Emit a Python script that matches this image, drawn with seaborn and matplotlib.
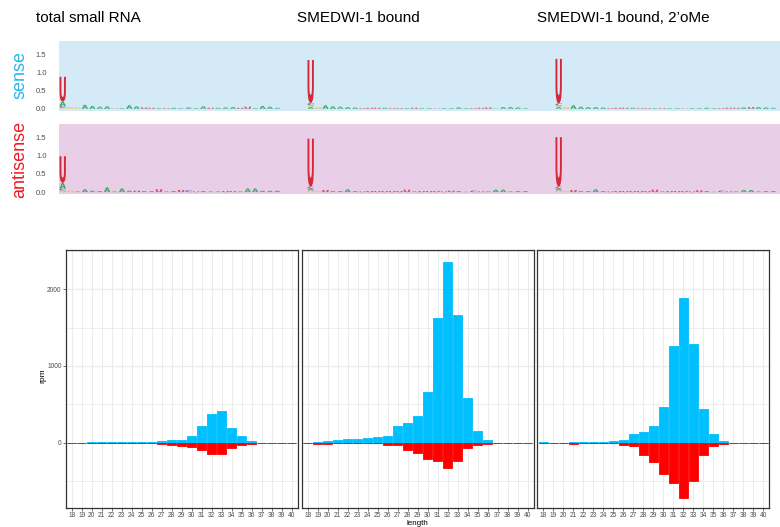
import numpy as np
import pandas as pd
import matplotlib
matplotlib.use("Agg")
import matplotlib.pyplot as plt
import seaborn as sns
from matplotlib.textpath import TextPath
from matplotlib.patches import PathPatch
from matplotlib.font_manager import FontProperties
from matplotlib.ticker import NullLocator, FixedLocator
import matplotlib.transforms as mtransforms

# ---------------- data ----------------
panel_titles = ["total small RNA", "SMEDWI-1 bound", "SMEDWI-1 bound, 2\u2019oMe"]
strand_labels = ["sense", "antisense"]

lengths = [str(v) for v in range(18, 41)]

total_sense = [0, 0, 12, 12, 12, 12, 12, 12, 12, 22, 40, 35, 90, 220, 378, 413, 191, 90, 26, 0, 0, 0, 0]
total_anti = [0, -5, -10, -10, -10, -10, -10, -10, -10, -15, -26, -45, -55, -95, -143, -143, -65, -26, -13, -5, -5, -5, -5]

smedwi_sense = [0, 9, 17, 30, 43, 43, 57, 70, 83, 213, 252, 343, 657, 1622, 2352, 1665, 578, 148, 30, 0, 0, 0, 0]
smedwi_anti = [-5, -13, -13, -10, -10, -10, -10, -8, -30, -30, -100, -135, -217, -239, -335, -235, -70, -30, -15, -5, -5, -5, -5]

ome_sense = [5, 0, 0, 9, 9, 9, 9, 17, 30, 113, 135, 213, 461, 1257, 1883, 1283, 435, 109, 17, 0, 0, 0, 0]
ome_anti = [0, -5, -5, -13, -10, -10, -10, -10, -30, -45, -160, -252, -409, -526, -722, -496, -160, -45, -15, -5, -5, -5, -5]

# sequence logos: first position stack (bottom->top) and positions 2..30 (top letter, bits)
s1_first = (["G", "C", "A", "U"], [0.03, 0.05, 0.12, 0.68])
s1_seq = "GGAAAAUAAAUUAUACAAAUAAAUUAAAA"
s1_h = [0.05, 0.04, 0.11, 0.08, 0.06, 0.07, 0.01, 0.02, 0.10, 0.07, 0.04, 0.03, 0.02, 0.02, 0.03,
        0.02, 0.04, 0.02, 0.07, 0.03, 0.03, 0.04, 0.05, 0.03, 0.06, 0.02, 0.08, 0.06, 0.03]

s2_first = (["A", "G", "C", "U"], [0.05, 0.05, 0.06, 1.18])
s2_seq = "GAAAAAUUUAUUAUAAUAAAAUUUAAAAA"
s2_h = [0.05, 0.10, 0.07, 0.06, 0.05, 0.04, 0.02, 0.03, 0.03, 0.03, 0.02, 0.02, 0.02, 0.03, 0.02,
        0.02, 0.01, 0.02, 0.02, 0.04, 0.02, 0.02, 0.03, 0.04, 0.01, 0.05, 0.05, 0.04, 0.02]

s3_first = (["A", "G", "C", "U"], [0.05, 0.04, 0.06, 1.22])
s3_seq = "GAAAAAUUUAUUAUAAUAAAAUUUAUAAA"
s3_h = [0.05, 0.10, 0.06, 0.05, 0.05, 0.04, 0.02, 0.03, 0.03, 0.03, 0.02, 0.02, 0.02, 0.02, 0.02,
        0.02, 0.01, 0.02, 0.02, 0.03, 0.02, 0.02, 0.03, 0.03, 0.04, 0.05, 0.05, 0.04, 0.03]

a1_first = (["G", "C", "A", "U"], [0.05, 0.05, 0.16, 0.72])
a1_seq = "GAAAAAAAAUAAUAAUCUAAAUUAAAAAA"
a1_h = [0.04, 0.02, 0.08, 0.04, 0.03, 0.13, 0.02, 0.10, 0.04, 0.04, 0.03, 0.03, 0.08, 0.02, 0.03,
        0.06, 0.05, 0.02, 0.03, 0.02, 0.02, 0.03, 0.03, 0.02, 0.10, 0.10, 0.04, 0.04, 0.04]

a2_first = (["G", "A", "C", "U"], [0.05, 0.05, 0.05, 1.31])
a2_seq = "GUAAAAUUUUUUUAUUUUUAACUAAAAAA"
a2_h = [0.03, 0.06, 0.03, 0.03, 0.08, 0.03, 0.02, 0.03, 0.03, 0.03, 0.03, 0.03, 0.07, 0.02, 0.03,
        0.03, 0.03, 0.02, 0.04, 0.03, 0.01, 0.04, 0.02, 0.02, 0.07, 0.07, 0.02, 0.03, 0.03]

a3_first = (["G", "A", "C", "U"], [0.05, 0.05, 0.05, 1.35])
a3_seq = "GUAAAAUUUUUUUAUUUUUAACUAAAAAA"
a3_h = [0.03, 0.06, 0.03, 0.03, 0.08, 0.03, 0.02, 0.03, 0.03, 0.03, 0.03, 0.03, 0.07, 0.02, 0.03,
        0.03, 0.03, 0.02, 0.05, 0.03, 0.01, 0.04, 0.02, 0.02, 0.06, 0.06, 0.02, 0.03, 0.03]

# ---------------- style ----------------
sns.set_style("white")
plt.rcParams["font.family"] = ["Liberation Sans", "DejaVu Sans"]

BLUE = "#00BFFF"
RED = "#FF0000"
NUC_COL = {"A": "#109648", "C": "#255C99", "G": "#F7B32B", "U": "#D62839"}
SENSE_BG = "#D4EBF7"
ANTI_BG = "#E8CEE7"
TICK_COL = "#4D4D4D"

W, H = 780, 527
fig = plt.figure(figsize=(W / 100, H / 100), dpi=100)


def ax_px(x0, y0, x1, y1):
    return fig.add_axes([x0 / W, 1 - y1 / H, (x1 - x0) / W, (y1 - y0) / H])


LOGO_FP = FontProperties(family="DejaVu Sans", weight="bold")


def draw_letter(ax, ch, xc, y0, h, w=0.86):
    if h <= 0:
        return
    tp = TextPath((0, 0), ch, size=1, prop=LOGO_FP)
    bb = tp.get_extents()
    tr = (mtransforms.Affine2D().translate(-bb.x0, -bb.y0)
          .scale(w / bb.width, h / bb.height).translate(xc - w / 2, y0))
    ax.add_patch(PathPatch(tr.transform_path(tp), facecolor=NUC_COL[ch],
                           edgecolor="none", alpha=0.8 if h < 0.3 else 1.0))


def draw_logo(ax, offset, first, seq, hts):
    y = 0.0
    for ch, h in zip(*first):
        draw_letter(ax, ch, offset + 1, y, h)
        y += h
    for i, (ch, h) in enumerate(zip(seq, hts)):
        draw_letter(ax, ch, offset + 2 + i, 0.0, h)


LOGO_OFFSETS = [0, 33.5, 67]
logo_rows = [
    (41, 110.7, SENSE_BG, [(s1_first, s1_seq, s1_h), (s2_first, s2_seq, s2_h), (s3_first, s3_seq, s3_h)]),
    (124, 194, ANTI_BG, [(a1_first, a1_seq, a1_h), (a2_first, a2_seq, a2_h), (a3_first, a3_seq, a3_h)]),
]
for (y0, y1, bg, logos) in logo_rows:
    ax = ax_px(59, y0, 780, y1)
    ax.set_facecolor(bg)
    for sp in ax.spines.values():
        sp.set_visible(False)
    ax.set_xlim(0.5, 97.9)
    ax.set_ylim(-0.05, 1.86)
    for off, (first, seq, hts) in zip(LOGO_OFFSETS, logos):
        draw_logo(ax, off, first, seq, hts)
    ax.set_xticks([])
    ax.set_yticks([0, 0.5, 1.0, 1.5])
    ax.set_yticklabels(["0.0", "0.5", "1.0", "1.5"])
    ax.tick_params(axis="y", length=0, pad=9, labelsize=5.5, labelcolor=TICK_COL)

fig.text(20 / W, 1 - 75 / H, strand_labels[0], rotation=90, ha="center", va="center",
         fontsize=13, color="#29B6EC")
fig.text(20 / W, 1 - 159 / H, strand_labels[1], rotation=90, ha="center", va="center",
         fontsize=13, color="#EE1C25")

title_x = [36, 297, 537]
for tx, t in zip(title_x, panel_titles):
    fig.text(tx / W, 1 - 18 / H, t, ha="left", va="center", fontsize=11, color="black")

# ---------------- length distributions ----------------
bar_sets = [(total_sense, total_anti), (smedwi_sense, smedwi_anti), (ome_sense, ome_anti)]
bar_x = [(65.7, 297.7), (301.7, 533.7), (537.3, 769.3)]
for k, ((sv, av), (x0, x1)) in enumerate(zip(bar_sets, bar_x)):
    ax = ax_px(x0, 250, x1, 508.3)
    df = pd.DataFrame({"length": lengths * 2, "rpm": sv + av,
                       "strand": ["sense"] * len(sv) + ["antisense"] * len(av)})
    sns.barplot(data=df[df.strand == "sense"], x="length", y="rpm", order=lengths,
                color=BLUE, saturation=1, width=0.9, errorbar=None, ax=ax,
                linewidth=0.6, edgecolor=BLUE, zorder=3)
    sns.barplot(data=df[df.strand == "antisense"], x="length", y="rpm", order=lengths,
                color=RED, saturation=1, width=0.9, errorbar=None, ax=ax,
                linewidth=0.6, edgecolor=RED, zorder=3)
    ax.set_xlim(-0.6, len(lengths) - 0.4)
    ax.set_ylim(-855, 2512)
    ax.xaxis.set_minor_locator(NullLocator())
    ax.yaxis.set_major_locator(FixedLocator([0, 1000, 2000]))
    ax.yaxis.set_minor_locator(FixedLocator([-500, 500, 1500, 2500]))
    ax.grid(False)
    ax.grid(True, axis="x", which="major", color="#EBEBEB", linewidth=0.75, zorder=0)
    ax.grid(True, axis="y", which="major", color="#EBEBEB", linewidth=0.9, zorder=0)
    ax.grid(True, axis="y", which="minor", color="#EBEBEB", linewidth=0.6, zorder=0)
    ax.set_axisbelow(True)
    for sp in ax.spines.values():
        sp.set_visible(True)
        sp.set_color("#333333")
        sp.set_linewidth(0.9)
    ax.tick_params(axis="both", which="major", length=2, width=0.5, color="#333333",
                   labelsize=4.8, labelcolor=TICK_COL, pad=1, bottom=True, left=True)
    ax.tick_params(axis="y", which="minor", length=0)
    ax.set_xlabel("")
    ax.set_ylabel("")
    if k == 0:
        ax.set_yticklabels(["0", "1000", "2000"])
    else:
        ax.tick_params(axis="y", which="both", left=False, labelleft=False)

fig.text(43 / W, 1 - 376 / H, "rpm", rotation=90, ha="center", va="center", fontsize=6,
         color="black")
fig.text(417 / W, 1 - 523.5 / H, "length", ha="center", va="center", fontsize=5.8, color="black")

fig.savefig("out.png", dpi=100)
